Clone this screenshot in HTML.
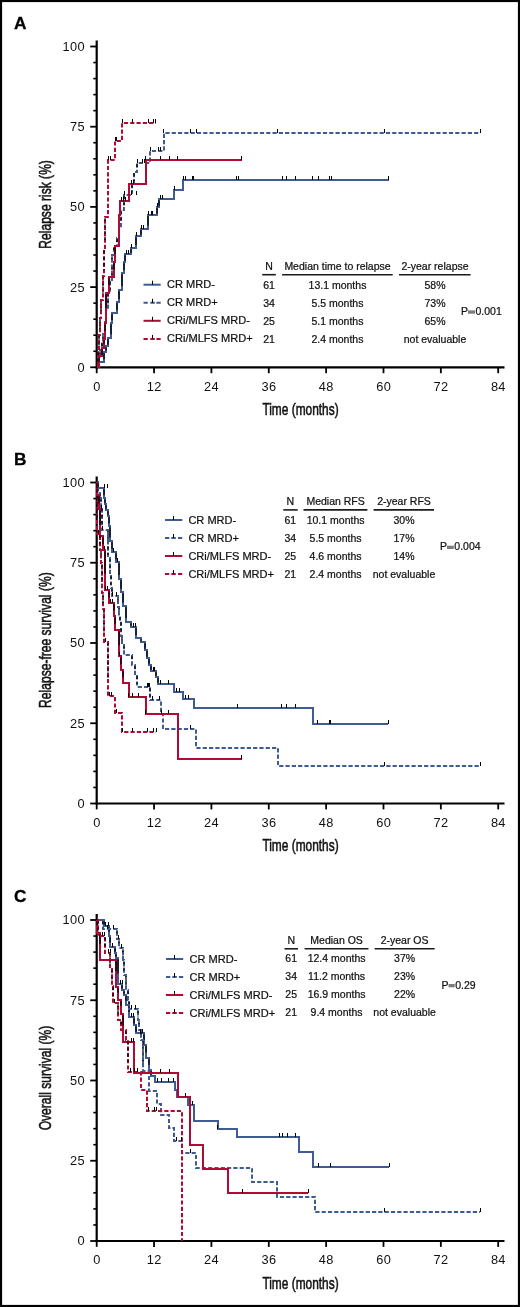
<!DOCTYPE html><html><head><meta charset="utf-8"><style>html,body{margin:0;padding:0;background:#fff;width:520px;height:1307px;overflow:hidden}svg{display:block;will-change:transform}</style></head><body><svg width="520" height="1307" viewBox="0 0 520 1307">
<style>text{font-family:"Liberation Sans",sans-serif;fill:#111;stroke:#111;stroke-width:0.22px}.tk{font-size:12.8px;stroke:none;letter-spacing:0.35px}.lg{font-size:10.5px}.lgl{font-size:11.05px}.ttl{font-size:16.2px;font-weight:normal;stroke:#111;stroke-width:0.55px}.let{font-size:17.3px;font-weight:bold;fill:#000;stroke:#000;stroke-width:0.3px}</style>
<rect x="0" y="0" width="520" height="1307" fill="#fff"/>
<rect x="1" y="1" width="518" height="1305" fill="none" stroke="#000" stroke-width="2.2"/>
<line x1="96.7" y1="40.5" x2="96.7" y2="368.40000000000003" stroke="#000" stroke-width="2.2"/>
<line x1="95.60000000000001" y1="367.3" x2="504.5" y2="367.3" stroke="#000" stroke-width="2.2"/>
<line x1="90.2" y1="367.30" x2="96.7" y2="367.30" stroke="#000" stroke-width="1.8"/>
<text x="84.95" y="371.70" text-anchor="end" class="tk">0</text>
<line x1="93.3" y1="351.26" x2="96.7" y2="351.26" stroke="#000" stroke-width="1.6"/>
<line x1="93.3" y1="335.22" x2="96.7" y2="335.22" stroke="#000" stroke-width="1.6"/>
<line x1="93.3" y1="319.18" x2="96.7" y2="319.18" stroke="#000" stroke-width="1.6"/>
<line x1="93.3" y1="303.14" x2="96.7" y2="303.14" stroke="#000" stroke-width="1.6"/>
<line x1="90.2" y1="287.10" x2="96.7" y2="287.10" stroke="#000" stroke-width="1.8"/>
<text x="84.95" y="291.50" text-anchor="end" class="tk">25</text>
<line x1="93.3" y1="271.06" x2="96.7" y2="271.06" stroke="#000" stroke-width="1.6"/>
<line x1="93.3" y1="255.02" x2="96.7" y2="255.02" stroke="#000" stroke-width="1.6"/>
<line x1="93.3" y1="238.98" x2="96.7" y2="238.98" stroke="#000" stroke-width="1.6"/>
<line x1="93.3" y1="222.94" x2="96.7" y2="222.94" stroke="#000" stroke-width="1.6"/>
<line x1="90.2" y1="206.90" x2="96.7" y2="206.90" stroke="#000" stroke-width="1.8"/>
<text x="84.95" y="211.30" text-anchor="end" class="tk">50</text>
<line x1="93.3" y1="190.86" x2="96.7" y2="190.86" stroke="#000" stroke-width="1.6"/>
<line x1="93.3" y1="174.82" x2="96.7" y2="174.82" stroke="#000" stroke-width="1.6"/>
<line x1="93.3" y1="158.78" x2="96.7" y2="158.78" stroke="#000" stroke-width="1.6"/>
<line x1="93.3" y1="142.74" x2="96.7" y2="142.74" stroke="#000" stroke-width="1.6"/>
<line x1="90.2" y1="126.70" x2="96.7" y2="126.70" stroke="#000" stroke-width="1.8"/>
<text x="84.95" y="131.10" text-anchor="end" class="tk">75</text>
<line x1="93.3" y1="110.66" x2="96.7" y2="110.66" stroke="#000" stroke-width="1.6"/>
<line x1="93.3" y1="94.62" x2="96.7" y2="94.62" stroke="#000" stroke-width="1.6"/>
<line x1="93.3" y1="78.58" x2="96.7" y2="78.58" stroke="#000" stroke-width="1.6"/>
<line x1="93.3" y1="62.54" x2="96.7" y2="62.54" stroke="#000" stroke-width="1.6"/>
<line x1="90.2" y1="46.50" x2="96.7" y2="46.50" stroke="#000" stroke-width="1.8"/>
<text x="84.95" y="50.90" text-anchor="end" class="tk">100</text>
<line x1="96.70" y1="367.3" x2="96.70" y2="373.2" stroke="#000" stroke-width="1.8"/>
<text x="96.87" y="390.70" text-anchor="middle" class="tk">0</text>
<line x1="154.06" y1="367.3" x2="154.06" y2="373.2" stroke="#000" stroke-width="1.8"/>
<text x="154.23" y="390.70" text-anchor="middle" class="tk">12</text>
<line x1="211.41" y1="367.3" x2="211.41" y2="373.2" stroke="#000" stroke-width="1.8"/>
<text x="211.58" y="390.70" text-anchor="middle" class="tk">24</text>
<line x1="268.77" y1="367.3" x2="268.77" y2="373.2" stroke="#000" stroke-width="1.8"/>
<text x="268.94" y="390.70" text-anchor="middle" class="tk">36</text>
<line x1="326.13" y1="367.3" x2="326.13" y2="373.2" stroke="#000" stroke-width="1.8"/>
<text x="326.30" y="390.70" text-anchor="middle" class="tk">48</text>
<line x1="383.49" y1="367.3" x2="383.49" y2="373.2" stroke="#000" stroke-width="1.8"/>
<text x="383.66" y="390.70" text-anchor="middle" class="tk">60</text>
<line x1="440.84" y1="367.3" x2="440.84" y2="373.2" stroke="#000" stroke-width="1.8"/>
<text x="441.01" y="390.70" text-anchor="middle" class="tk">72</text>
<line x1="498.20" y1="367.3" x2="498.20" y2="373.2" stroke="#000" stroke-width="1.8"/>
<text x="498.37" y="390.70" text-anchor="middle" class="tk">84</text>
<text x="300.5" y="415.10" text-anchor="middle" class="ttl" transform="translate(300.5 0) scale(0.735 1) translate(-300.5 0)">Time (months)</text>
<text x="0" y="0" text-anchor="middle" class="ttl" transform="translate(51.2 204.4) rotate(-90) scale(0.746 1)">Relapse risk (%)</text>
<text x="13.9" y="28.8" class="let">A</text>
<line x1="96.7" y1="476.5" x2="96.7" y2="804.6" stroke="#000" stroke-width="2.2"/>
<line x1="95.60000000000001" y1="803.5" x2="504.5" y2="803.5" stroke="#000" stroke-width="2.2"/>
<line x1="90.2" y1="803.50" x2="96.7" y2="803.50" stroke="#000" stroke-width="1.8"/>
<text x="84.95" y="807.90" text-anchor="end" class="tk">0</text>
<line x1="93.3" y1="787.45" x2="96.7" y2="787.45" stroke="#000" stroke-width="1.6"/>
<line x1="93.3" y1="771.40" x2="96.7" y2="771.40" stroke="#000" stroke-width="1.6"/>
<line x1="93.3" y1="755.35" x2="96.7" y2="755.35" stroke="#000" stroke-width="1.6"/>
<line x1="93.3" y1="739.30" x2="96.7" y2="739.30" stroke="#000" stroke-width="1.6"/>
<line x1="90.2" y1="723.25" x2="96.7" y2="723.25" stroke="#000" stroke-width="1.8"/>
<text x="84.95" y="727.65" text-anchor="end" class="tk">25</text>
<line x1="93.3" y1="707.20" x2="96.7" y2="707.20" stroke="#000" stroke-width="1.6"/>
<line x1="93.3" y1="691.15" x2="96.7" y2="691.15" stroke="#000" stroke-width="1.6"/>
<line x1="93.3" y1="675.10" x2="96.7" y2="675.10" stroke="#000" stroke-width="1.6"/>
<line x1="93.3" y1="659.05" x2="96.7" y2="659.05" stroke="#000" stroke-width="1.6"/>
<line x1="90.2" y1="643.00" x2="96.7" y2="643.00" stroke="#000" stroke-width="1.8"/>
<text x="84.95" y="647.40" text-anchor="end" class="tk">50</text>
<line x1="93.3" y1="626.95" x2="96.7" y2="626.95" stroke="#000" stroke-width="1.6"/>
<line x1="93.3" y1="610.90" x2="96.7" y2="610.90" stroke="#000" stroke-width="1.6"/>
<line x1="93.3" y1="594.85" x2="96.7" y2="594.85" stroke="#000" stroke-width="1.6"/>
<line x1="93.3" y1="578.80" x2="96.7" y2="578.80" stroke="#000" stroke-width="1.6"/>
<line x1="90.2" y1="562.75" x2="96.7" y2="562.75" stroke="#000" stroke-width="1.8"/>
<text x="84.95" y="567.15" text-anchor="end" class="tk">75</text>
<line x1="93.3" y1="546.70" x2="96.7" y2="546.70" stroke="#000" stroke-width="1.6"/>
<line x1="93.3" y1="530.65" x2="96.7" y2="530.65" stroke="#000" stroke-width="1.6"/>
<line x1="93.3" y1="514.60" x2="96.7" y2="514.60" stroke="#000" stroke-width="1.6"/>
<line x1="93.3" y1="498.55" x2="96.7" y2="498.55" stroke="#000" stroke-width="1.6"/>
<line x1="90.2" y1="482.50" x2="96.7" y2="482.50" stroke="#000" stroke-width="1.8"/>
<text x="84.95" y="486.90" text-anchor="end" class="tk">100</text>
<line x1="96.70" y1="803.5" x2="96.70" y2="809.4" stroke="#000" stroke-width="1.8"/>
<text x="96.87" y="826.90" text-anchor="middle" class="tk">0</text>
<line x1="154.06" y1="803.5" x2="154.06" y2="809.4" stroke="#000" stroke-width="1.8"/>
<text x="154.23" y="826.90" text-anchor="middle" class="tk">12</text>
<line x1="211.41" y1="803.5" x2="211.41" y2="809.4" stroke="#000" stroke-width="1.8"/>
<text x="211.58" y="826.90" text-anchor="middle" class="tk">24</text>
<line x1="268.77" y1="803.5" x2="268.77" y2="809.4" stroke="#000" stroke-width="1.8"/>
<text x="268.94" y="826.90" text-anchor="middle" class="tk">36</text>
<line x1="326.13" y1="803.5" x2="326.13" y2="809.4" stroke="#000" stroke-width="1.8"/>
<text x="326.30" y="826.90" text-anchor="middle" class="tk">48</text>
<line x1="383.49" y1="803.5" x2="383.49" y2="809.4" stroke="#000" stroke-width="1.8"/>
<text x="383.66" y="826.90" text-anchor="middle" class="tk">60</text>
<line x1="440.84" y1="803.5" x2="440.84" y2="809.4" stroke="#000" stroke-width="1.8"/>
<text x="441.01" y="826.90" text-anchor="middle" class="tk">72</text>
<line x1="498.20" y1="803.5" x2="498.20" y2="809.4" stroke="#000" stroke-width="1.8"/>
<text x="498.37" y="826.90" text-anchor="middle" class="tk">84</text>
<text x="300.5" y="851.30" text-anchor="middle" class="ttl" transform="translate(300.5 0) scale(0.735 1) translate(-300.5 0)">Time (months)</text>
<text x="0" y="0" text-anchor="middle" class="ttl" transform="translate(51.2 640.1) rotate(-90) scale(0.746 1)">Relapse-free survival (%)</text>
<text x="13.9" y="465.0" class="let">B</text>
<line x1="96.7" y1="914.0" x2="96.7" y2="1242.1" stroke="#000" stroke-width="2.2"/>
<line x1="95.60000000000001" y1="1241.0" x2="504.5" y2="1241.0" stroke="#000" stroke-width="2.2"/>
<line x1="90.2" y1="1241.00" x2="96.7" y2="1241.00" stroke="#000" stroke-width="1.8"/>
<text x="84.95" y="1245.40" text-anchor="end" class="tk">0</text>
<line x1="93.3" y1="1224.95" x2="96.7" y2="1224.95" stroke="#000" stroke-width="1.6"/>
<line x1="93.3" y1="1208.90" x2="96.7" y2="1208.90" stroke="#000" stroke-width="1.6"/>
<line x1="93.3" y1="1192.85" x2="96.7" y2="1192.85" stroke="#000" stroke-width="1.6"/>
<line x1="93.3" y1="1176.80" x2="96.7" y2="1176.80" stroke="#000" stroke-width="1.6"/>
<line x1="90.2" y1="1160.75" x2="96.7" y2="1160.75" stroke="#000" stroke-width="1.8"/>
<text x="84.95" y="1165.15" text-anchor="end" class="tk">25</text>
<line x1="93.3" y1="1144.70" x2="96.7" y2="1144.70" stroke="#000" stroke-width="1.6"/>
<line x1="93.3" y1="1128.65" x2="96.7" y2="1128.65" stroke="#000" stroke-width="1.6"/>
<line x1="93.3" y1="1112.60" x2="96.7" y2="1112.60" stroke="#000" stroke-width="1.6"/>
<line x1="93.3" y1="1096.55" x2="96.7" y2="1096.55" stroke="#000" stroke-width="1.6"/>
<line x1="90.2" y1="1080.50" x2="96.7" y2="1080.50" stroke="#000" stroke-width="1.8"/>
<text x="84.95" y="1084.90" text-anchor="end" class="tk">50</text>
<line x1="93.3" y1="1064.45" x2="96.7" y2="1064.45" stroke="#000" stroke-width="1.6"/>
<line x1="93.3" y1="1048.40" x2="96.7" y2="1048.40" stroke="#000" stroke-width="1.6"/>
<line x1="93.3" y1="1032.35" x2="96.7" y2="1032.35" stroke="#000" stroke-width="1.6"/>
<line x1="93.3" y1="1016.30" x2="96.7" y2="1016.30" stroke="#000" stroke-width="1.6"/>
<line x1="90.2" y1="1000.25" x2="96.7" y2="1000.25" stroke="#000" stroke-width="1.8"/>
<text x="84.95" y="1004.65" text-anchor="end" class="tk">75</text>
<line x1="93.3" y1="984.20" x2="96.7" y2="984.20" stroke="#000" stroke-width="1.6"/>
<line x1="93.3" y1="968.15" x2="96.7" y2="968.15" stroke="#000" stroke-width="1.6"/>
<line x1="93.3" y1="952.10" x2="96.7" y2="952.10" stroke="#000" stroke-width="1.6"/>
<line x1="93.3" y1="936.05" x2="96.7" y2="936.05" stroke="#000" stroke-width="1.6"/>
<line x1="90.2" y1="920.00" x2="96.7" y2="920.00" stroke="#000" stroke-width="1.8"/>
<text x="84.95" y="924.40" text-anchor="end" class="tk">100</text>
<line x1="96.70" y1="1241.0" x2="96.70" y2="1246.9" stroke="#000" stroke-width="1.8"/>
<text x="96.87" y="1264.40" text-anchor="middle" class="tk">0</text>
<line x1="154.06" y1="1241.0" x2="154.06" y2="1246.9" stroke="#000" stroke-width="1.8"/>
<text x="154.23" y="1264.40" text-anchor="middle" class="tk">12</text>
<line x1="211.41" y1="1241.0" x2="211.41" y2="1246.9" stroke="#000" stroke-width="1.8"/>
<text x="211.58" y="1264.40" text-anchor="middle" class="tk">24</text>
<line x1="268.77" y1="1241.0" x2="268.77" y2="1246.9" stroke="#000" stroke-width="1.8"/>
<text x="268.94" y="1264.40" text-anchor="middle" class="tk">36</text>
<line x1="326.13" y1="1241.0" x2="326.13" y2="1246.9" stroke="#000" stroke-width="1.8"/>
<text x="326.30" y="1264.40" text-anchor="middle" class="tk">48</text>
<line x1="383.49" y1="1241.0" x2="383.49" y2="1246.9" stroke="#000" stroke-width="1.8"/>
<text x="383.66" y="1264.40" text-anchor="middle" class="tk">60</text>
<line x1="440.84" y1="1241.0" x2="440.84" y2="1246.9" stroke="#000" stroke-width="1.8"/>
<text x="441.01" y="1264.40" text-anchor="middle" class="tk">72</text>
<line x1="498.20" y1="1241.0" x2="498.20" y2="1246.9" stroke="#000" stroke-width="1.8"/>
<text x="498.37" y="1264.40" text-anchor="middle" class="tk">84</text>
<text x="300.5" y="1288.80" text-anchor="middle" class="ttl" transform="translate(300.5 0) scale(0.735 1) translate(-300.5 0)">Time (months)</text>
<text x="0" y="0" text-anchor="middle" class="ttl" transform="translate(51.2 1078) rotate(-90) scale(0.746 1)">Overall survival (%)</text>
<text x="13.9" y="901.8" class="let">C</text>
<path d="M97 367 H99 V362 H104 V352 H106 V346 H108 V338 H111 V323 H112 V313 H117 V302 H119 V290 H122 V273 H124 V262 H125 V254 H131 V248 H136 V236 H141 V229 H148 V215 H157 V207 H159 V199 H174 V190 H183 V180 H389" fill="none" stroke="#3e5b93" stroke-width="2" stroke-linejoin="miter" stroke-linecap="butt"/>
<path d="M99.0 363.2 V365.8 M104.0 353.2 V359.3 M106.0 347.2 V350.8 M108.0 339.2 V344.8 M111.0 324.2 V334.3 M112.0 314.2 V320.3 M117.0 303.2 V310.1 M119.0 291.2 V298.9 M122.0 274.2 V285.9 M124.0 263.2 V270.1 M125.0 255.2 V260.8 M131.0 249.2 V252.8 M136.0 237.2 V244.9 M141.0 230.2 V234.8 M148.0 216.2 V225.5 M157.0 208.2 V213.8 M159.0 200.2 V205.8" fill="none" stroke="#000" stroke-width="1.5" stroke-opacity="0.85"/>
<path d="M97 367 H98 V358 H100 V350 H102 V342 H103 V334 H105 V322 H106 V310 H108 V293 H110 V280 H112 V266 H112 V255 H114 V246 H117 V238 H119 V228 H121 V210 H124 V195 H132 V184 H134 V172 H137 V163 H150 V151 H164 V133 H480" fill="none" stroke="#3e5b93" stroke-width="2" stroke-dasharray="4.2 2.1" stroke-linejoin="miter" stroke-linecap="butt"/>
<path d="M98.0 359.2 V364.5 M100.0 351.2 V356.8 M102.0 343.2 V348.8 M103.0 335.2 V340.8 M105.0 323.2 V330.9 M106.0 311.2 V318.9 M108.0 294.2 V305.9 M110.0 281.2 V289.7 M112.0 267.2 V276.5 M112.0 256.2 V263.1 M114.0 247.2 V252.5 M117.0 239.2 V244.8 M119.0 229.2 V235.3 M121.0 211.2 V223.7 M124.0 196.2 V206.3 M132.0 185.2 V192.1 M134.0 173.2 V180.9 M137.0 164.2 V169.5" fill="none" stroke="#000" stroke-width="1.5" stroke-opacity="0.85" stroke-dasharray="3 3.3"/>
<path d="M97 367 H99 V356 H102 V348 H104 V339 H105 V323 H106 V293 H109 V277 H114 V262 H115 V246 H119 V215 H120 V201 H129 V184 H146 V160 H242" fill="none" stroke="#b00a35" stroke-width="2" stroke-linejoin="miter" stroke-linecap="butt"/>
<path d="M99.0 357.2 V361.5 M102.0 349.2 V354.8 M104.0 340.2 V343.5 M105.0 324.2 V331.0 M106.0 294.2 V308.0 M109.0 278.2 V285.0 M114.0 263.2 V269.5 M115.0 247.2 V254.0" fill="none" stroke="#000" stroke-width="1.5" stroke-opacity="0.85"/>
<path d="M97 367 H98 V351 H99 V335 H100 V318 H101 V300 H103 V276 H104 V249 H105 V217 H108 V160 H115 V141 H122 V123 H156" fill="none" stroke="#b00a35" stroke-width="2" stroke-dasharray="4.2 2.1" stroke-linejoin="miter" stroke-linecap="butt"/>
<path d="M98.0 352.2 V363.1 M99.0 336.2 V347.1 M100.0 319.2 V330.9 M101.0 301.2 V313.7 M103.0 277.2 V294.5 M104.0 250.2 V269.9 M105.0 218.2 V241.9" fill="none" stroke="#000" stroke-width="1.5" stroke-opacity="0.85" stroke-dasharray="3 3.3"/>
<line x1="183.5" y1="176" x2="183.5" y2="180" stroke="#000" stroke-width="1"/>
<line x1="185.5" y1="176" x2="185.5" y2="180" stroke="#000" stroke-width="1"/>
<line x1="192.5" y1="176" x2="192.5" y2="180" stroke="#000" stroke-width="1"/>
<line x1="193.5" y1="176" x2="193.5" y2="180" stroke="#000" stroke-width="1"/>
<line x1="236.5" y1="176" x2="236.5" y2="180" stroke="#000" stroke-width="1"/>
<line x1="238.5" y1="176" x2="238.5" y2="180" stroke="#000" stroke-width="1"/>
<line x1="282.5" y1="176" x2="282.5" y2="180" stroke="#000" stroke-width="1"/>
<line x1="286.5" y1="176" x2="286.5" y2="180" stroke="#000" stroke-width="1"/>
<line x1="295.5" y1="176" x2="295.5" y2="180" stroke="#000" stroke-width="1"/>
<line x1="312.5" y1="176" x2="312.5" y2="180" stroke="#000" stroke-width="1"/>
<line x1="318.5" y1="176" x2="318.5" y2="180" stroke="#000" stroke-width="1"/>
<line x1="329.5" y1="176" x2="329.5" y2="180" stroke="#000" stroke-width="1"/>
<line x1="331.5" y1="176" x2="331.5" y2="180" stroke="#000" stroke-width="1"/>
<line x1="388.5" y1="176" x2="388.5" y2="180" stroke="#000" stroke-width="1"/>
<line x1="163.5" y1="129" x2="163.5" y2="133" stroke="#000" stroke-width="1"/>
<line x1="190.5" y1="129" x2="190.5" y2="133" stroke="#000" stroke-width="1"/>
<line x1="196.5" y1="129" x2="196.5" y2="133" stroke="#000" stroke-width="1"/>
<line x1="277.5" y1="129" x2="277.5" y2="133" stroke="#000" stroke-width="1"/>
<line x1="384.5" y1="129" x2="384.5" y2="133" stroke="#000" stroke-width="1"/>
<line x1="480.5" y1="129" x2="480.5" y2="133" stroke="#000" stroke-width="1"/>
<line x1="145.5" y1="156" x2="145.5" y2="160" stroke="#000" stroke-width="1"/>
<line x1="160.5" y1="156" x2="160.5" y2="160" stroke="#000" stroke-width="1"/>
<line x1="169.5" y1="156" x2="169.5" y2="160" stroke="#000" stroke-width="1"/>
<line x1="177.5" y1="156" x2="177.5" y2="160" stroke="#000" stroke-width="1"/>
<line x1="241.5" y1="156" x2="241.5" y2="160" stroke="#000" stroke-width="1"/>
<line x1="122.5" y1="119" x2="122.5" y2="123" stroke="#000" stroke-width="1"/>
<line x1="132.5" y1="119" x2="132.5" y2="123" stroke="#000" stroke-width="1"/>
<line x1="148.5" y1="119" x2="148.5" y2="123" stroke="#000" stroke-width="1"/>
<line x1="153.5" y1="119" x2="153.5" y2="123" stroke="#000" stroke-width="1"/>
<line x1="155.5" y1="119" x2="155.5" y2="123" stroke="#000" stroke-width="1"/>
<line x1="115.5" y1="137" x2="115.5" y2="141" stroke="#000" stroke-width="1"/>
<line x1="116.5" y1="137" x2="116.5" y2="141" stroke="#000" stroke-width="1"/>
<line x1="108.5" y1="156" x2="108.5" y2="160" stroke="#000" stroke-width="1"/>
<line x1="110.5" y1="156" x2="110.5" y2="160" stroke="#000" stroke-width="1"/>
<line x1="150.5" y1="147" x2="150.5" y2="151" stroke="#000" stroke-width="1"/>
<line x1="158.5" y1="147" x2="158.5" y2="151" stroke="#000" stroke-width="1"/>
<line x1="160.5" y1="147" x2="160.5" y2="151" stroke="#000" stroke-width="1"/>
<line x1="174.5" y1="186" x2="174.5" y2="190" stroke="#000" stroke-width="1"/>
<line x1="137.5" y1="159" x2="137.5" y2="163" stroke="#000" stroke-width="1"/>
<line x1="142.5" y1="159" x2="142.5" y2="163" stroke="#000" stroke-width="1"/>
<line x1="144.5" y1="159" x2="144.5" y2="163" stroke="#000" stroke-width="1"/>
<line x1="131.5" y1="180" x2="131.5" y2="184" stroke="#000" stroke-width="1"/>
<line x1="133.5" y1="180" x2="133.5" y2="184" stroke="#000" stroke-width="1"/>
<line x1="124.5" y1="191" x2="124.5" y2="195" stroke="#000" stroke-width="1"/>
<line x1="131.5" y1="191" x2="131.5" y2="195" stroke="#000" stroke-width="1"/>
<line x1="136.5" y1="191" x2="136.5" y2="195" stroke="#000" stroke-width="1"/>
<line x1="121.5" y1="197" x2="121.5" y2="201" stroke="#000" stroke-width="1"/>
<line x1="123.5" y1="197" x2="123.5" y2="201" stroke="#000" stroke-width="1"/>
<line x1="125.5" y1="197" x2="125.5" y2="201" stroke="#000" stroke-width="1"/>
<line x1="126.5" y1="250" x2="126.5" y2="254" stroke="#000" stroke-width="1"/>
<line x1="128.5" y1="250" x2="128.5" y2="254" stroke="#000" stroke-width="1"/>
<line x1="131.5" y1="244" x2="131.5" y2="248" stroke="#000" stroke-width="1"/>
<line x1="136.5" y1="232" x2="136.5" y2="236" stroke="#000" stroke-width="1"/>
<line x1="141.5" y1="225" x2="141.5" y2="229" stroke="#000" stroke-width="1"/>
<line x1="143.5" y1="225" x2="143.5" y2="229" stroke="#000" stroke-width="1"/>
<line x1="148.5" y1="211" x2="148.5" y2="215" stroke="#000" stroke-width="1"/>
<line x1="151.5" y1="211" x2="151.5" y2="215" stroke="#000" stroke-width="1"/>
<line x1="152.5" y1="211" x2="152.5" y2="215" stroke="#000" stroke-width="1"/>
<line x1="157.5" y1="203" x2="157.5" y2="207" stroke="#000" stroke-width="1"/>
<line x1="160.5" y1="195" x2="160.5" y2="199" stroke="#000" stroke-width="1"/>
<line x1="162.5" y1="195" x2="162.5" y2="199" stroke="#000" stroke-width="1"/>
<path d="M97 482 H98 V488 H104 V498 H105 V504 H106 V510 H108 V516 H109 V526 H110 V541 H112 V552 H116 V562 H119 V579 H121 V592 H123 V606 H126 V622 H131 V627 H136 V638 H141 V642 H145 V650 H147 V658 H149 V665 H151 V671 H156 V677 H158 V684 H174 V692 H183 V699 H194 V708 H313 V724 H388" fill="none" stroke="#3e5b93" stroke-width="2" stroke-linejoin="miter" stroke-linecap="butt"/>
<path d="M98.0 483.2 V486.8 M104.0 489.2 V495.3 M105.0 499.2 V502.8 M106.0 505.2 V508.8 M108.0 511.2 V514.8 M109.0 517.2 V523.3 M110.0 527.2 V537.3 M112.0 542.2 V549.1 M116.0 553.2 V559.3 M119.0 563.2 V574.9 M121.0 580.2 V588.7 M123.0 593.2 V602.5 M126.0 607.2 V618.1 M131.0 623.2 V625.8 M136.0 628.2 V635.1 M141.0 639.2 V640.8 M145.0 643.2 V648.8 M147.0 651.2 V656.8 M149.0 659.2 V663.8 M151.0 666.2 V669.8 M156.0 672.2 V675.8 M158.0 678.2 V682.8" fill="none" stroke="#000" stroke-width="1.5" stroke-opacity="0.85"/>
<path d="M97 482 H98 V493 H100 V498 H101 V507 H102 V530 H108 V545 H108 V558 H110 V575 H111 V588 H112 V596 H118 V607 H119 V616 H120 V621 H121 V636 H122 V645 H124 V655 H132 V665 H135 V675 H137 V687 H150 V700 H161 V714 H163 V729 H196 V748 H278 V766 H480" fill="none" stroke="#3e5b93" stroke-width="2" stroke-dasharray="4.2 2.1" stroke-linejoin="miter" stroke-linecap="butt"/>
<path d="M98.0 483.2 V490.1 M100.0 494.2 V496.8 M101.0 499.2 V504.5 M102.0 508.2 V524.7 M108.0 531.2 V541.3 M108.0 546.2 V554.7 M110.0 559.2 V570.9 M111.0 576.2 V584.7 M112.0 589.2 V594.8 M118.0 597.2 V604.1 M119.0 608.2 V613.5 M120.0 617.2 V619.8 M121.0 622.2 V632.3 M122.0 637.2 V642.5 M124.0 646.2 V652.3 M132.0 656.2 V662.3 M135.0 666.2 V672.3 M137.0 676.2 V683.9 M150.0 688.2 V696.7" fill="none" stroke="#000" stroke-width="1.5" stroke-opacity="0.85" stroke-dasharray="3 3.3"/>
<path d="M97 482 H97 V495 H99 V509 H100 V536 H103 V550 H105 V590 H109 V603 H114 V616 H115 V630 H119 V656 H121 V670 H123 V683 H129 V697 H146 V714 H178 V759 H242" fill="none" stroke="#b00a35" stroke-width="2" stroke-linejoin="miter" stroke-linecap="butt"/>
<path d="M97.0 483.2 V489.6 M99.0 496.2 V503.2 M100.0 510.2 V525.0 M103.0 537.2 V544.2 M105.0 551.2 V573.8 M109.0 591.2 V597.6 M114.0 604.2 V610.6 M115.0 617.2 V624.2 M119.0 631.2 V645.4 M121.0 657.2 V664.2 M123.0 671.2 V677.6" fill="none" stroke="#000" stroke-width="1.5" stroke-opacity="0.85"/>
<path d="M97 482 H97 V534 H100 V550 H101 V563 H102 V593 H103 V609 H104 V642 H108 V696 H115 V713 H122 V732 H156" fill="none" stroke="#b00a35" stroke-width="2" stroke-dasharray="4.2 2.1" stroke-linejoin="miter" stroke-linecap="butt"/>
<path d="M97.0 483.2 V517.9 M100.0 535.2 V544.7 M101.0 551.2 V558.6 M102.0 564.2 V583.5 M103.0 594.2 V603.7 M104.0 610.2 V631.6 M108.0 643.2 V679.3" fill="none" stroke="#000" stroke-width="1.5" stroke-opacity="0.85" stroke-dasharray="3 3.3"/>
<line x1="237.5" y1="704" x2="237.5" y2="708" stroke="#000" stroke-width="1"/>
<line x1="281.5" y1="704" x2="281.5" y2="708" stroke="#000" stroke-width="1"/>
<line x1="286.5" y1="704" x2="286.5" y2="708" stroke="#000" stroke-width="1"/>
<line x1="295.5" y1="704" x2="295.5" y2="708" stroke="#000" stroke-width="1"/>
<line x1="317.5" y1="720" x2="317.5" y2="724" stroke="#000" stroke-width="1"/>
<line x1="329.5" y1="720" x2="329.5" y2="724" stroke="#000" stroke-width="1"/>
<line x1="330.5" y1="720" x2="330.5" y2="724" stroke="#000" stroke-width="1"/>
<line x1="388.5" y1="720" x2="388.5" y2="724" stroke="#000" stroke-width="1"/>
<line x1="190.5" y1="725" x2="190.5" y2="729" stroke="#000" stroke-width="1"/>
<line x1="384.5" y1="762" x2="384.5" y2="766" stroke="#000" stroke-width="1"/>
<line x1="480.5" y1="762" x2="480.5" y2="766" stroke="#000" stroke-width="1"/>
<line x1="145.5" y1="710" x2="145.5" y2="714" stroke="#000" stroke-width="1"/>
<line x1="161.5" y1="710" x2="161.5" y2="714" stroke="#000" stroke-width="1"/>
<line x1="168.5" y1="710" x2="168.5" y2="714" stroke="#000" stroke-width="1"/>
<line x1="241.5" y1="755" x2="241.5" y2="759" stroke="#000" stroke-width="1"/>
<line x1="128.5" y1="693" x2="128.5" y2="697" stroke="#000" stroke-width="1"/>
<line x1="132.5" y1="693" x2="132.5" y2="697" stroke="#000" stroke-width="1"/>
<line x1="138.5" y1="693" x2="138.5" y2="697" stroke="#000" stroke-width="1"/>
<line x1="122.5" y1="728" x2="122.5" y2="732" stroke="#000" stroke-width="1"/>
<line x1="132.5" y1="728" x2="132.5" y2="732" stroke="#000" stroke-width="1"/>
<line x1="147.5" y1="728" x2="147.5" y2="732" stroke="#000" stroke-width="1"/>
<line x1="153.5" y1="728" x2="153.5" y2="732" stroke="#000" stroke-width="1"/>
<line x1="156.5" y1="728" x2="156.5" y2="732" stroke="#000" stroke-width="1"/>
<line x1="147.5" y1="683" x2="147.5" y2="687" stroke="#000" stroke-width="1"/>
<line x1="148.5" y1="683" x2="148.5" y2="687" stroke="#000" stroke-width="1"/>
<line x1="149.5" y1="683" x2="149.5" y2="687" stroke="#000" stroke-width="1"/>
<line x1="152.5" y1="696" x2="152.5" y2="700" stroke="#000" stroke-width="1"/>
<line x1="159.5" y1="696" x2="159.5" y2="700" stroke="#000" stroke-width="1"/>
<line x1="160.5" y1="680" x2="160.5" y2="684" stroke="#000" stroke-width="1"/>
<line x1="168.5" y1="680" x2="168.5" y2="684" stroke="#000" stroke-width="1"/>
<line x1="176.5" y1="688" x2="176.5" y2="692" stroke="#000" stroke-width="1"/>
<line x1="179.5" y1="688" x2="179.5" y2="692" stroke="#000" stroke-width="1"/>
<line x1="185.5" y1="695" x2="185.5" y2="699" stroke="#000" stroke-width="1"/>
<line x1="188.5" y1="695" x2="188.5" y2="699" stroke="#000" stroke-width="1"/>
<line x1="153.5" y1="667" x2="153.5" y2="671" stroke="#000" stroke-width="1"/>
<line x1="154.5" y1="667" x2="154.5" y2="671" stroke="#000" stroke-width="1"/>
<line x1="133.5" y1="623" x2="133.5" y2="627" stroke="#000" stroke-width="1"/>
<line x1="135.5" y1="623" x2="135.5" y2="627" stroke="#000" stroke-width="1"/>
<line x1="112.5" y1="592" x2="112.5" y2="596" stroke="#000" stroke-width="1"/>
<line x1="116.5" y1="592" x2="116.5" y2="596" stroke="#000" stroke-width="1"/>
<line x1="104.5" y1="484" x2="104.5" y2="488" stroke="#000" stroke-width="1"/>
<line x1="107.5" y1="484" x2="107.5" y2="488" stroke="#000" stroke-width="1"/>
<line x1="113.5" y1="548" x2="113.5" y2="552" stroke="#000" stroke-width="1"/>
<line x1="117.5" y1="558" x2="117.5" y2="562" stroke="#000" stroke-width="1"/>
<line x1="102.5" y1="526" x2="102.5" y2="530" stroke="#000" stroke-width="1"/>
<line x1="105.5" y1="586" x2="105.5" y2="590" stroke="#000" stroke-width="1"/>
<line x1="107.5" y1="586" x2="107.5" y2="590" stroke="#000" stroke-width="1"/>
<line x1="110.5" y1="599" x2="110.5" y2="603" stroke="#000" stroke-width="1"/>
<line x1="112.5" y1="599" x2="112.5" y2="603" stroke="#000" stroke-width="1"/>
<line x1="119.5" y1="652" x2="119.5" y2="656" stroke="#000" stroke-width="1"/>
<line x1="105.5" y1="638" x2="105.5" y2="642" stroke="#000" stroke-width="1"/>
<line x1="109.5" y1="692" x2="109.5" y2="696" stroke="#000" stroke-width="1"/>
<line x1="111.5" y1="692" x2="111.5" y2="696" stroke="#000" stroke-width="1"/>
<line x1="116.5" y1="709" x2="116.5" y2="713" stroke="#000" stroke-width="1"/>
<line x1="101.5" y1="505" x2="101.5" y2="509" stroke="#000" stroke-width="1"/>
<line x1="104.5" y1="546" x2="104.5" y2="550" stroke="#000" stroke-width="1"/>
<line x1="98.5" y1="530" x2="98.5" y2="534" stroke="#000" stroke-width="1"/>
<path d="M97 920 H104 V926 H109 V936 H110 V947 H115 V953 H116 V958 H118 V984 H122 V990 H124 V995 H126 V1005 H129 V1017 H134 V1025 H136 V1033 H144 V1045 H146 V1058 H149 V1070 H151 V1076 H155 V1082 H175 V1090 H177 V1097 H188 V1105 H194 V1121 H218 V1129 H237 V1137 H299 V1152 H313 V1167 H389" fill="none" stroke="#3e5b93" stroke-width="2" stroke-linejoin="miter" stroke-linecap="butt"/>
<path d="M104.0 921.2 V924.8 M109.0 927.2 V931.8 M110.0 937.2 V942.4 M115.0 948.2 V951.8 M116.0 954.2 V956.8 M118.0 959.2 V973.4 M122.0 985.2 V988.8 M124.0 991.2 V993.8 M126.0 996.2 V1000.8 M129.0 1006.2 V1012.0 M134.0 1018.2 V1023.8 M136.0 1026.2 V1031.8 M144.0 1034.2 V1040.0 M146.0 1046.2 V1052.6 M149.0 1059.2 V1065.0 M151.0 1071.2 V1074.8" fill="none" stroke="#000" stroke-width="1.5" stroke-opacity="0.85"/>
<path d="M97 920 H103 V929 H117 V939 H119 V948 H123 V960 H124 V975 H126 V990 H128 V1000 H129 V1009 H138 V1020 H139 V1030 H141 V1040 H143 V1071 H149 V1091 H157 V1104 H161 V1115 H169 V1128 H174 V1141 H182 V1153 H196 V1168 H252 V1182 H277 V1197 H315 V1212 H480" fill="none" stroke="#3e5b93" stroke-width="2" stroke-dasharray="4.2 2.1" stroke-linejoin="miter" stroke-linecap="butt"/>
<path d="M103.0 921.2 V926.5 M117.0 930.2 V936.3 M119.0 940.2 V945.5 M123.0 949.2 V956.9 M124.0 961.2 V971.3 M126.0 976.2 V986.3 M128.0 991.2 V997.3 M129.0 1001.2 V1006.5 M138.0 1010.2 V1017.1 M139.0 1021.2 V1027.3 M141.0 1031.2 V1037.3 M143.0 1041.2 V1064.1" fill="none" stroke="#000" stroke-width="1.5" stroke-opacity="0.85" stroke-dasharray="3 3.3"/>
<path d="M97 920 H97 V933 H100 V960 H116 V987 H118 V1000 H121 V1014 H123 V1042 H134 V1073 H178 V1097 H190 V1145 H203 V1169 H228 V1193 H308" fill="none" stroke="#b00a35" stroke-width="2" stroke-linejoin="miter" stroke-linecap="butt"/>
<path d="M97.0 921.2 V925.4 M100.0 934.2 V944.0 M116.0 961.2 V971.0 M118.0 988.2 V992.4 M121.0 1001.2 V1005.8 M123.0 1015.2 V1025.4" fill="none" stroke="#000" stroke-width="1.5" stroke-opacity="0.85"/>
<path d="M97 920 H98 V936 H105 V953 H110 V969 H112 V986 H113 V1003 H118 V1020 H121 V1030 H126 V1040 H128 V1072 H141 V1090 H147 V1111 H182 V1241" fill="none" stroke="#b00a35" stroke-width="2" stroke-dasharray="4.2 2.1" stroke-linejoin="miter" stroke-linecap="butt"/>
<path d="M98.0 921.2 V930.7 M105.0 937.2 V947.4 M110.0 954.2 V963.7 M112.0 970.2 V980.4 M113.0 987.2 V997.4 M118.0 1004.2 V1014.4 M121.0 1021.2 V1026.5 M126.0 1031.2 V1036.5 M128.0 1041.2 V1061.9" fill="none" stroke="#000" stroke-width="1.5" stroke-opacity="0.85" stroke-dasharray="3 3.3"/>
<line x1="279.5" y1="1133" x2="279.5" y2="1137" stroke="#000" stroke-width="1"/>
<line x1="282.5" y1="1133" x2="282.5" y2="1137" stroke="#000" stroke-width="1"/>
<line x1="287.5" y1="1133" x2="287.5" y2="1137" stroke="#000" stroke-width="1"/>
<line x1="295.5" y1="1133" x2="295.5" y2="1137" stroke="#000" stroke-width="1"/>
<line x1="318.5" y1="1163" x2="318.5" y2="1167" stroke="#000" stroke-width="1"/>
<line x1="330.5" y1="1163" x2="330.5" y2="1167" stroke="#000" stroke-width="1"/>
<line x1="389.5" y1="1163" x2="389.5" y2="1167" stroke="#000" stroke-width="1"/>
<line x1="217.5" y1="1125" x2="217.5" y2="1129" stroke="#000" stroke-width="1"/>
<line x1="384.5" y1="1208" x2="384.5" y2="1212" stroke="#000" stroke-width="1"/>
<line x1="480.5" y1="1208" x2="480.5" y2="1212" stroke="#000" stroke-width="1"/>
<line x1="190.5" y1="1149" x2="190.5" y2="1153" stroke="#000" stroke-width="1"/>
<line x1="160.5" y1="1069" x2="160.5" y2="1073" stroke="#000" stroke-width="1"/>
<line x1="169.5" y1="1069" x2="169.5" y2="1073" stroke="#000" stroke-width="1"/>
<line x1="242.5" y1="1189" x2="242.5" y2="1193" stroke="#000" stroke-width="1"/>
<line x1="308.5" y1="1189" x2="308.5" y2="1193" stroke="#000" stroke-width="1"/>
<line x1="157.5" y1="1078" x2="157.5" y2="1082" stroke="#000" stroke-width="1"/>
<line x1="161.5" y1="1078" x2="161.5" y2="1082" stroke="#000" stroke-width="1"/>
<line x1="168.5" y1="1078" x2="168.5" y2="1082" stroke="#000" stroke-width="1"/>
<line x1="173.5" y1="1078" x2="173.5" y2="1082" stroke="#000" stroke-width="1"/>
<line x1="185.5" y1="1093" x2="185.5" y2="1097" stroke="#000" stroke-width="1"/>
<line x1="192.5" y1="1101" x2="192.5" y2="1105" stroke="#000" stroke-width="1"/>
<line x1="148.5" y1="1107" x2="148.5" y2="1111" stroke="#000" stroke-width="1"/>
<line x1="154.5" y1="1107" x2="154.5" y2="1111" stroke="#000" stroke-width="1"/>
<line x1="156.5" y1="1107" x2="156.5" y2="1111" stroke="#000" stroke-width="1"/>
<line x1="176.5" y1="1137" x2="176.5" y2="1141" stroke="#000" stroke-width="1"/>
<line x1="181.5" y1="1137" x2="181.5" y2="1141" stroke="#000" stroke-width="1"/>
<line x1="105.5" y1="922" x2="105.5" y2="926" stroke="#000" stroke-width="1"/>
<line x1="108.5" y1="922" x2="108.5" y2="926" stroke="#000" stroke-width="1"/>
<line x1="112.5" y1="943" x2="112.5" y2="947" stroke="#000" stroke-width="1"/>
<line x1="120.5" y1="980" x2="120.5" y2="984" stroke="#000" stroke-width="1"/>
<line x1="122.5" y1="980" x2="122.5" y2="984" stroke="#000" stroke-width="1"/>
<line x1="131.5" y1="1013" x2="131.5" y2="1017" stroke="#000" stroke-width="1"/>
<line x1="133.5" y1="1013" x2="133.5" y2="1017" stroke="#000" stroke-width="1"/>
<line x1="107.5" y1="925" x2="107.5" y2="929" stroke="#000" stroke-width="1"/>
<line x1="113.5" y1="925" x2="113.5" y2="929" stroke="#000" stroke-width="1"/>
<line x1="118.5" y1="935" x2="118.5" y2="939" stroke="#000" stroke-width="1"/>
<line x1="121.5" y1="944" x2="121.5" y2="948" stroke="#000" stroke-width="1"/>
<line x1="131.5" y1="1005" x2="131.5" y2="1009" stroke="#000" stroke-width="1"/>
<line x1="135.5" y1="1005" x2="135.5" y2="1009" stroke="#000" stroke-width="1"/>
<line x1="102.5" y1="932" x2="102.5" y2="936" stroke="#000" stroke-width="1"/>
<line x1="104.5" y1="932" x2="104.5" y2="936" stroke="#000" stroke-width="1"/>
<line x1="108.5" y1="949" x2="108.5" y2="953" stroke="#000" stroke-width="1"/>
<line x1="110.5" y1="949" x2="110.5" y2="953" stroke="#000" stroke-width="1"/>
<line x1="114.5" y1="999" x2="114.5" y2="1003" stroke="#000" stroke-width="1"/>
<line x1="130.5" y1="1068" x2="130.5" y2="1072" stroke="#000" stroke-width="1"/>
<line x1="134.5" y1="1068" x2="134.5" y2="1072" stroke="#000" stroke-width="1"/>
<line x1="137.5" y1="1068" x2="137.5" y2="1072" stroke="#000" stroke-width="1"/>
<line x1="140.5" y1="1029" x2="140.5" y2="1033" stroke="#000" stroke-width="1"/>
<line x1="142.5" y1="1029" x2="142.5" y2="1033" stroke="#000" stroke-width="1"/>
<line x1="131.5" y1="1038" x2="131.5" y2="1042" stroke="#000" stroke-width="1"/>
<line x1="133.5" y1="1038" x2="133.5" y2="1042" stroke="#000" stroke-width="1"/>
<line x1="143.5" y1="284.7" x2="160.7" y2="284.7" stroke="#3e5b93" stroke-width="2"/>
<line x1="152.5" y1="280.7" x2="152.5" y2="284.7" stroke="#000" stroke-width="1"/>
<text x="167.0" y="288.20" class="lgl">CR MRD-</text>
<path d="M143.5 302.8 H147.8 M150.3 302.8 H154.8 M156.39999999999998 302.8 H160.7" stroke="#3e5b93" stroke-width="2"/>
<line x1="152.5" y1="298.8" x2="152.5" y2="302.8" stroke="#000" stroke-width="1"/>
<text x="167.0" y="306.30" class="lgl">CR MRD+</text>
<line x1="143.5" y1="320.8" x2="160.7" y2="320.8" stroke="#b00a35" stroke-width="2"/>
<line x1="152.5" y1="316.8" x2="152.5" y2="320.8" stroke="#000" stroke-width="1"/>
<text x="167.0" y="324.30" class="lgl">CRi/MLFS MRD-</text>
<path d="M143.5 338.9 H147.8 M150.3 338.9 H154.8 M156.39999999999998 338.9 H160.7" stroke="#b00a35" stroke-width="2"/>
<line x1="152.5" y1="334.9" x2="152.5" y2="338.9" stroke="#000" stroke-width="1"/>
<text x="167.0" y="342.40" class="lgl">CRi/MLFS MRD+</text>
<text x="269.0" y="269.5" text-anchor="middle" class="lg">N</text>
<line x1="262.2" y1="274.7" x2="275.8" y2="274.7" stroke="#1c1c1c" stroke-width="1.6"/>
<text x="269.0" y="288.50" text-anchor="middle" class="lg">61</text>
<text x="269.0" y="306.60" text-anchor="middle" class="lg">34</text>
<text x="269.0" y="324.60" text-anchor="middle" class="lg">25</text>
<text x="269.0" y="342.70" text-anchor="middle" class="lg">21</text>
<text x="337.5" y="269.5" text-anchor="middle" class="lg">Median time to relapse</text>
<line x1="282.1" y1="274.7" x2="392.7" y2="274.7" stroke="#1c1c1c" stroke-width="1.6"/>
<text x="337.5" y="288.50" text-anchor="middle" class="lg">13.1 months</text>
<text x="337.5" y="306.60" text-anchor="middle" class="lg">5.5 months</text>
<text x="337.5" y="324.60" text-anchor="middle" class="lg">5.1 months</text>
<text x="337.5" y="342.70" text-anchor="middle" class="lg">2.4 months</text>
<text x="435.0" y="269.5" text-anchor="middle" class="lg">2-year relapse</text>
<line x1="399.0" y1="274.7" x2="470.6" y2="274.7" stroke="#1c1c1c" stroke-width="1.6"/>
<text x="435.0" y="288.50" text-anchor="middle" class="lg">58%</text>
<text x="435.0" y="306.60" text-anchor="middle" class="lg">73%</text>
<text x="435.0" y="324.60" text-anchor="middle" class="lg">65%</text>
<text x="435.0" y="342.70" text-anchor="middle" class="lg">not evaluable</text>
<text x="461.0" y="315.0" class="lg">P</text>
<rect x="467.9" y="310.40" width="7.10" height="3.3" fill="#7c7c7c"/>
<text x="475.5" y="315.0" class="lg">0.001</text>
<line x1="165.0" y1="520" x2="182.3" y2="520" stroke="#3e5b93" stroke-width="2"/>
<line x1="173.5" y1="516" x2="173.5" y2="520" stroke="#000" stroke-width="1"/>
<text x="188.4" y="523.50" class="lgl">CR MRD-</text>
<path d="M165.0 538 H169.3 M171.3 538 H175.8 M178.0 538 H182.3" stroke="#3e5b93" stroke-width="2"/>
<line x1="173.5" y1="534" x2="173.5" y2="538" stroke="#000" stroke-width="1"/>
<text x="188.4" y="541.50" class="lgl">CR MRD+</text>
<line x1="165.0" y1="556" x2="182.3" y2="556" stroke="#b00a35" stroke-width="2"/>
<line x1="173.5" y1="552" x2="173.5" y2="556" stroke="#000" stroke-width="1"/>
<text x="188.4" y="559.50" class="lgl">CRi/MLFS MRD-</text>
<path d="M165.0 574 H169.3 M171.3 574 H175.8 M178.0 574 H182.3" stroke="#b00a35" stroke-width="2"/>
<line x1="173.5" y1="570" x2="173.5" y2="574" stroke="#000" stroke-width="1"/>
<text x="188.4" y="577.50" class="lgl">CRi/MLFS MRD+</text>
<text x="290.3" y="504.7" text-anchor="middle" class="lg">N</text>
<line x1="283.3" y1="509.9" x2="297.7" y2="509.9" stroke="#1c1c1c" stroke-width="1.6"/>
<text x="290.3" y="523.95" text-anchor="middle" class="lg">61</text>
<text x="290.3" y="541.95" text-anchor="middle" class="lg">34</text>
<text x="290.3" y="559.95" text-anchor="middle" class="lg">25</text>
<text x="290.3" y="577.95" text-anchor="middle" class="lg">21</text>
<text x="335.6" y="504.7" text-anchor="middle" class="lg">Median RFS</text>
<line x1="303.5" y1="509.9" x2="367.4" y2="509.9" stroke="#1c1c1c" stroke-width="1.6"/>
<text x="335.6" y="523.95" text-anchor="middle" class="lg">10.1 months</text>
<text x="335.6" y="541.95" text-anchor="middle" class="lg">5.5 months</text>
<text x="335.6" y="559.95" text-anchor="middle" class="lg">4.6 months</text>
<text x="335.6" y="577.95" text-anchor="middle" class="lg">2.4 months</text>
<text x="404.0" y="504.7" text-anchor="middle" class="lg">2-year RFS</text>
<line x1="373.6" y1="509.9" x2="434.0" y2="509.9" stroke="#1c1c1c" stroke-width="1.6"/>
<text x="404.0" y="523.95" text-anchor="middle" class="lg">30%</text>
<text x="404.0" y="541.95" text-anchor="middle" class="lg">17%</text>
<text x="404.0" y="559.95" text-anchor="middle" class="lg">14%</text>
<text x="404.0" y="577.95" text-anchor="middle" class="lg">not evaluable</text>
<text x="440.0" y="550.3" class="lg">P</text>
<rect x="447.0" y="545.70" width="6.80" height="3.3" fill="#7c7c7c"/>
<text x="454.3" y="550.3" class="lg">0.004</text>
<line x1="166.0" y1="959" x2="183.2" y2="959" stroke="#3e5b93" stroke-width="2"/>
<line x1="174.5" y1="955" x2="174.5" y2="959" stroke="#000" stroke-width="1"/>
<text x="189.5" y="962.50" class="lgl">CR MRD-</text>
<path d="M166.0 977 H170.3 M172.3 977 H176.8 M178.89999999999998 977 H183.2" stroke="#3e5b93" stroke-width="2"/>
<line x1="174.5" y1="973" x2="174.5" y2="977" stroke="#000" stroke-width="1"/>
<text x="189.5" y="980.50" class="lgl">CR MRD+</text>
<line x1="166.0" y1="995" x2="183.2" y2="995" stroke="#b00a35" stroke-width="2"/>
<line x1="174.5" y1="991" x2="174.5" y2="995" stroke="#000" stroke-width="1"/>
<text x="189.5" y="998.50" class="lgl">CRi/MLFS MRD-</text>
<path d="M166.0 1013 H170.3 M172.3 1013 H176.8 M178.89999999999998 1013 H183.2" stroke="#b00a35" stroke-width="2"/>
<line x1="174.5" y1="1009" x2="174.5" y2="1013" stroke="#000" stroke-width="1"/>
<text x="189.5" y="1016.50" class="lgl">CRi/MLFS MRD+</text>
<text x="291.2" y="943.5999999999999" text-anchor="middle" class="lg">N</text>
<line x1="284.5" y1="948.8" x2="298.0" y2="948.8" stroke="#1c1c1c" stroke-width="1.6"/>
<text x="291.2" y="962.40" text-anchor="middle" class="lg">61</text>
<text x="291.2" y="980.40" text-anchor="middle" class="lg">34</text>
<text x="291.2" y="998.40" text-anchor="middle" class="lg">25</text>
<text x="291.2" y="1016.40" text-anchor="middle" class="lg">21</text>
<text x="336.6" y="943.5999999999999" text-anchor="middle" class="lg">Median OS</text>
<line x1="304.6" y1="948.8" x2="368.5" y2="948.8" stroke="#1c1c1c" stroke-width="1.6"/>
<text x="336.6" y="962.40" text-anchor="middle" class="lg">12.4 months</text>
<text x="336.6" y="980.40" text-anchor="middle" class="lg">11.2 months</text>
<text x="336.6" y="998.40" text-anchor="middle" class="lg">16.9 months</text>
<text x="336.6" y="1016.40" text-anchor="middle" class="lg">9.4 months</text>
<text x="404.6" y="943.5999999999999" text-anchor="middle" class="lg">2-year OS</text>
<line x1="374.6" y1="948.8" x2="434.6" y2="948.8" stroke="#1c1c1c" stroke-width="1.6"/>
<text x="404.6" y="962.40" text-anchor="middle" class="lg">37%</text>
<text x="404.6" y="980.40" text-anchor="middle" class="lg">23%</text>
<text x="404.6" y="998.40" text-anchor="middle" class="lg">22%</text>
<text x="404.6" y="1016.40" text-anchor="middle" class="lg">not evaluable</text>
<text x="441.5" y="988.6" class="lg">P</text>
<rect x="448.5" y="984.00" width="6.20" height="3.3" fill="#7c7c7c"/>
<text x="455.2" y="988.6" class="lg">0.29</text>
</svg></body></html>
